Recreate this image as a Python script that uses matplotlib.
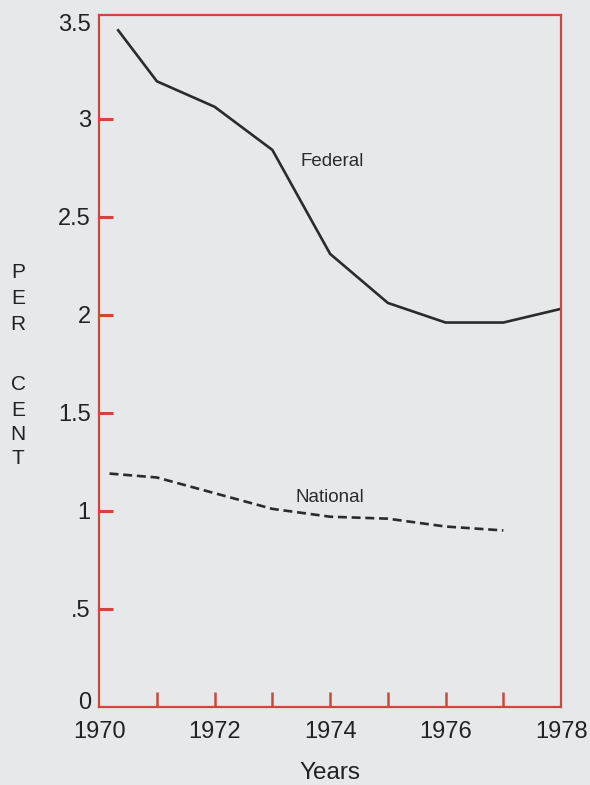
import matplotlib
matplotlib.use("Agg")
import matplotlib.pyplot as plt
from matplotlib.ticker import FixedLocator, FixedFormatter

plt.rcParams['font.family'] = ['Liberation Sans', 'DejaVu Sans']

federal_years = [1970.33, 1971, 1972, 1973, 1974, 1975, 1976, 1977, 1978]
federal_pct = [3.45, 3.19, 3.06, 2.84, 2.31, 2.06, 1.96, 1.96, 2.03]

national_years = [1970.18, 1971, 1972, 1973, 1974, 1975, 1976, 1977]
national_pct = [1.19, 1.17, 1.09, 1.01, 0.97, 0.96, 0.92, 0.90]

y_ticks = [0.5, 1, 1.5, 2, 2.5, 3]
y_tick_labels = [".5", "1", "1.5", "2", "2.5", "3"]
y_end_labels = {0: "0", 3.5: "3.5"}
x_ticks = [1970, 1971, 1972, 1973, 1974, 1975, 1976, 1977, 1978]
x_tick_labels = ["1970", "", "1972", "", "1974", "", "1976", "", "1978"]

bg = "#e7e8ea"
red = "#c94a3c"
ink = "#2b2b2d"
txt = "#222222"

fig = plt.figure(figsize=(5.9, 7.85), dpi=100, facecolor=bg)
ax = fig.add_axes([0.168, 0.0994, 0.783, 0.882])
ax.set_facecolor(bg)

ax.plot(federal_years, federal_pct, color=ink, lw=1.9, solid_joinstyle='miter')
ax.plot(national_years, national_pct, color=ink, lw=1.9, dashes=(3.4, 1.8))

ax.text(1973.48, 2.78, "Federal", fontsize=13.5, color=ink, va='center', ha='left')
ax.text(1973.4, 1.07, "National", fontsize=13.5, color=ink, va='center', ha='left')

ax.set_xlim(1970, 1978)
ax.set_ylim(0, 3.53)
for s in ax.spines.values():
    s.set_color(red)
    s.set_linewidth(1.6)

ax.yaxis.set_major_locator(FixedLocator(y_ticks))
ax.yaxis.set_major_formatter(FixedFormatter(y_tick_labels))
ax.xaxis.set_major_locator(FixedLocator(x_ticks))
ax.xaxis.set_major_formatter(FixedFormatter(x_tick_labels))
ax.tick_params(axis='y', direction='in', length=10, width=2.2, color=red,
               labelsize=17, labelcolor=txt, pad=6)
ax.tick_params(axis='x', direction='in', length=11, width=1.8, color=red,
               labelsize=17, labelcolor=txt, pad=10)
# hide tick marks at the two ends of the x axis (labels kept)
xt = ax.xaxis.get_major_ticks()
for t in (xt[0], xt[-1]):
    t.tick1line.set_visible(False)

# end labels of y axis (no tick marks there)
for val, lab in y_end_labels.items():
    ax.annotate(lab, xy=(0, val), xycoords=('axes fraction', 'data'),
                xytext=(-6, -3 if val > 0 else 3), textcoords='offset points',
                ha='right', va='center', fontsize=17, color=txt)

ax.set_xlabel("Years", fontsize=17.5, color=txt, labelpad=14)

letters = ["P", "E", "R", "C", "E", "N", "T"]
ys = [273, 299, 325, 385, 410, 435, 459]
for ch, yp in zip(letters, ys):
    fig.text(18 / 590, 1 - yp / 785, ch, fontsize=15, color=txt,
             ha='center', va='center')

fig.savefig("out.png", dpi=100, facecolor=bg)
